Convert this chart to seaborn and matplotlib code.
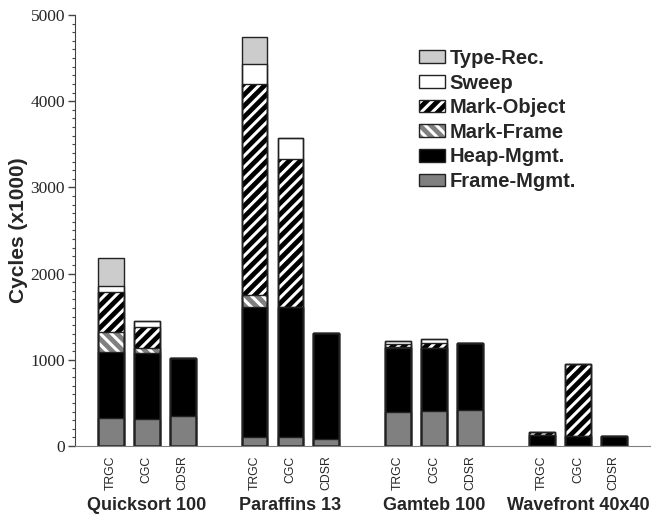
import matplotlib
matplotlib.use("Agg")
import matplotlib.pyplot as plt
from matplotlib.patches import Patch
from matplotlib.ticker import MultipleLocator
import numpy as np
import seaborn as sns

# values (cycles x1000)
benchmarks = ["Quicksort 100", "Paraffins 13", "Gamteb 100", "Wavefront 40x40"]
collectors = ["TRGC", "CGC", "CDSR"]

frame_mgmt = [330, 317, 352, 110, 108, 80, 398, 406, 418, 0, 0, 0]
heap_mgmt = [766, 760, 666, 1504, 1510, 1229, 740, 736, 778, 124, 120, 116]
mark_frame = [221, 58, 0, 143, 0, 0, 15, 0, 0, 0, 0, 0]
mark_object = [469, 251, 0, 2443, 1715, 0, 35, 51, 0, 39, 830, 0]
sweep = [65, 66, 0, 233, 240, 0, 31, 46, 0, 0, 0, 0]
type_rec = [330, 0, 0, 317, 0, 0, 0, 0, 0, 0, 0, 0]

layers = [
    ("Frame-Mgmt.", frame_mgmt, "#808080", None),
    ("Heap-Mgmt.", heap_mgmt, "#000000", None),
    ("Mark-Frame", mark_frame, "#808080", "\\\\\\"),
    ("Mark-Object", mark_object, "#000000", "///"),
    ("Sweep", sweep, "#ffffff", None),
    ("Type-Rec.", type_rec, "#cccccc", None),
]

sns.set_style("ticks")
plt.rcParams["hatch.linewidth"] = 2.2
plt.rcParams["font.family"] = ["Liberation Sans", "DejaVu Sans"]

xpos = np.array([g * 4 + j for g in range(len(benchmarks)) for j in range(len(collectors))], dtype=float)
labels = [c for _ in benchmarks for c in collectors]

cum = np.cumsum(np.array([l[1] for l in layers], dtype=float), axis=0)

fig = plt.figure(figsize=(6.57, 5.25), dpi=100)
ax = fig.add_axes([0.114, 0.1505, 0.875, 0.821])

# fill, top layer first so lower layers cover it
for i in range(len(layers) - 1, -1, -1):
    name, vals, col, hatch = layers[i]
    sns.barplot(x=xpos, y=cum[i], native_scale=True, width=0.72, errorbar=None,
                color=col, saturation=1, facecolor=col,
                edgecolor="white" if hatch else col, hatch=hatch, linewidth=0, ax=ax)

# outlines of every segment
for i in range(len(layers)):
    sns.barplot(x=xpos, y=cum[i], native_scale=True, width=0.72, errorbar=None,
                color="black", facecolor="none", edgecolor="#222222", linewidth=1.0, ax=ax)

ax.set_xlim(-1, 15)
ax.set_ylim(0, 5000)
ax.set_xticks(xpos)
ax.set_xticklabels(labels, rotation=90, fontsize=8.8)
ax.tick_params(axis="x", length=0, pad=7)
ax.yaxis.set_major_locator(MultipleLocator(1000))
ax.yaxis.set_minor_locator(MultipleLocator(100))
ax.tick_params(axis="y", which="major", length=5, width=1, color="#444444", pad=2,
               labelsize=12.5, labelfontfamily="Liberation Serif")
ax.tick_params(axis="y", which="minor", length=2.5, width=0.8, color="#444444")

ax.set_ylabel("Cycles (x1000)", fontsize=15, fontweight="bold")
ax.yaxis.set_label_coords(-0.082, 0.5)
ax.set_xlabel("")
sns.despine(ax=ax)
ax.spines["bottom"].set_color("#808080")
ax.spines["left"].set_color("#444444")

for g, b in enumerate(benchmarks):
    ax.text(g * 4 + 1, -0.137, b, transform=ax.get_xaxis_transform(),
            ha="center", va="center", fontsize=13, fontweight="bold")

handles = []
names = []
for name, vals, col, hatch in reversed(layers):
    if hatch:
        h = (Patch(facecolor=col, edgecolor="white", hatch=hatch, linewidth=0),
             Patch(facecolor="none", edgecolor="#222222", linewidth=1))
    else:
        h = Patch(facecolor=col, edgecolor="#222222", linewidth=1)
    handles.append(h)
    names.append(name)

leg = ax.legend(handles, names, loc="upper left", bbox_to_anchor=(0.585, 0.94),
                frameon=False, handlelength=1.3, handleheight=0.6,
                handletextpad=0.2, labelspacing=0.28, borderaxespad=0,
                prop={"size": 14.5, "weight": "bold"})

fig.savefig("out.png", dpi=100)
